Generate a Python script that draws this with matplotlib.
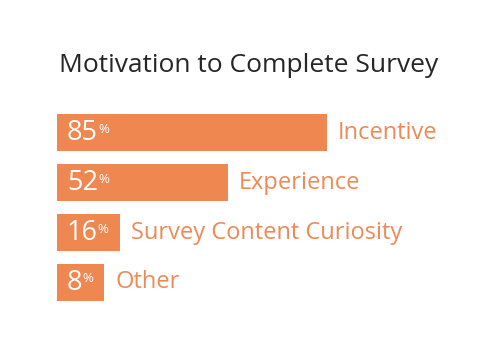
import numpy as np
import matplotlib.pyplot as plt

categories = ['Incentive', 'Experience', 'Survey Content Curiosity', 'Other']
values = np.array([85, 52, 16, 8])
title = 'Motivation to Complete Survey'

bar_color = '#EF8751'
label_color = '#EE8A55'
font = 'Open Sans'

fig = plt.figure(figsize=(5, 3.54), dpi=100)
ax = fig.add_axes([0, 0, 1, 1])
ax.set_xlim(-24, 142.67)
ax.set_ylim(4.43, -2.65)
ax.axis('off')

# bars start a little left of zero and never get narrower than the label
widths = np.maximum(values + 5, 15.7)
y = np.arange(len(categories))
bars = ax.barh(y, widths, left=-5, height=0.74, color=bar_color)

for yi, v, w, cat in zip(y, values, widths, categories):
    num = ax.annotate(str(v), xy=(-5, yi), xytext=(10, 0), textcoords='offset pixels',
                      ha='left', va='center', color='white', fontsize=19.5,
                      family=font)
    ax.annotate('%', xy=(1.0, 1.0), xycoords=num, xytext=(0, -4),
                textcoords='offset pixels', ha='left', va='top',
                color='white', fontsize=9.5, family=font)
    ax.annotate(cat, xy=(-5 + w, yi), xytext=(11, 0), textcoords='offset pixels',
                ha='left', va='center', color=label_color, fontsize=17,
                family=font)

fig.text(0.497, 0.815, title, ha='center', va='center', color='#262626',
         fontsize=19, fontweight='medium', family=font)

fig.savefig('out.png', dpi=100)
